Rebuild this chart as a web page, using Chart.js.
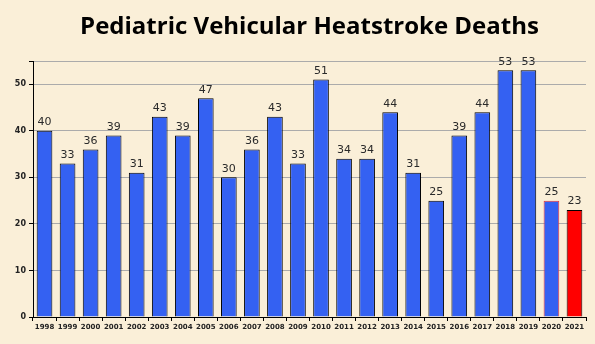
<!DOCTYPE html>
<html>
<head>
<meta charset="utf-8">
<script src="https://cdn.jsdelivr.net/npm/chart.js@4/dist/chart.umd.min.js"></script>
<style>
  html, body { margin:0; padding:0; background:#FAEFD8; }
  #wrap { width:595px; height:344px; position:relative; }
</style>
</head>
<body>
<div id="wrap"><canvas id="chart"></canvas></div>
<script>
const TITLE  = 'Pediatric Vehicular Heatstroke Deaths';
const years  = ['1998','1999','2000','2001','2002','2003','2004','2005','2006','2007','2008','2009',
                '2010','2011','2012','2013','2014','2015','2016','2017','2018','2019','2020','2021'];
const deaths = [40,33,36,39,31,43,39,47,30,36,43,33,51,34,34,44,31,25,39,44,53,53,25,23];
const yTicks = [0,10,20,30,40,50];

const BLUE = '#3461F2', RED = '#FF0000';
const fillColors   = years.map(y => y === '2021' ? RED : BLUE);
const borderColors = years.map(y => y === '2020' ? '#F03030' : '#000');

// value labels above each bar
const valueLabels = {
  id: 'valueLabels',
  afterDatasetsDraw(chart) {
    const { ctx } = chart;
    const meta = chart.getDatasetMeta(0);
    ctx.save();
    ctx.font = '11px "DejaVu Sans"';
    ctx.fillStyle = '#2a2a2a';
    ctx.textAlign = 'center';
    ctx.textBaseline = 'bottom';
    meta.data.forEach((bar, i) => ctx.fillText(deaths[i], bar.x, bar.y - 3));
    ctx.restore();
  }
};

// title centred over the plot area
const titlePlugin = {
  id: 'titlePlugin',
  afterDraw(chart) {
    const { ctx, chartArea } = chart;
    ctx.save();
    ctx.font = 'bold 24px "Open Sans"';
    ctx.fillStyle = '#000';
    ctx.textAlign = 'center';
    ctx.textBaseline = 'middle';
    ctx.fillText(TITLE, (chartArea.left + chartArea.right) / 2, 27);
    ctx.restore();
  }
};

new Chart(document.getElementById('chart'), {
  type: 'bar',
  data: {
    labels: years,
    datasets: [{
      label: 'Deaths',
      data: deaths,
      backgroundColor: fillColors,
      borderColor: borderColors,
      borderWidth: 1,
      categoryPercentage: 1,
      barPercentage: 0.68
    }]
  },
  options: {
    responsive: true, maintainAspectRatio: false,
    animation: false,
    layout: { padding: { top: 61, right: 9, left: 0, bottom: 0 } },
    plugins: { legend: { display:false }, tooltip: { enabled:false }, title: { display:false } },
    scales: {
      x: {
        afterFit: s => { s.height = 27; },
        grid: { display:true, drawOnChartArea:false, offset:true, color:'#000', tickLength:4 },
        border: { color:'#000', width:1 },
        ticks: { font:{ family:'DejaVu Sans', size:7, weight:'bold' }, color:'#222', padding:2, maxRotation:0, autoSkip:false }
      },
      y: {
        min: 0, max: 55,
        afterFit: s => { s.width = 33; },
        afterBuildTicks: s => { s.ticks = [...yTicks, 55].map(v => ({ value: v })); },
        grid: { color:'#ABABAB', tickColor:'#000', tickLength:4 },
        border: { color:'#000', width:1 },
        ticks: {
          font:{ family:'DejaVu Sans', size:8, weight:'bold' }, color:'#222', padding:3,
          callback: v => yTicks.includes(v) ? v : ''
        }
      }
    }
  },
  plugins: [valueLabels, titlePlugin]
});
</script>
</body>
</html>
